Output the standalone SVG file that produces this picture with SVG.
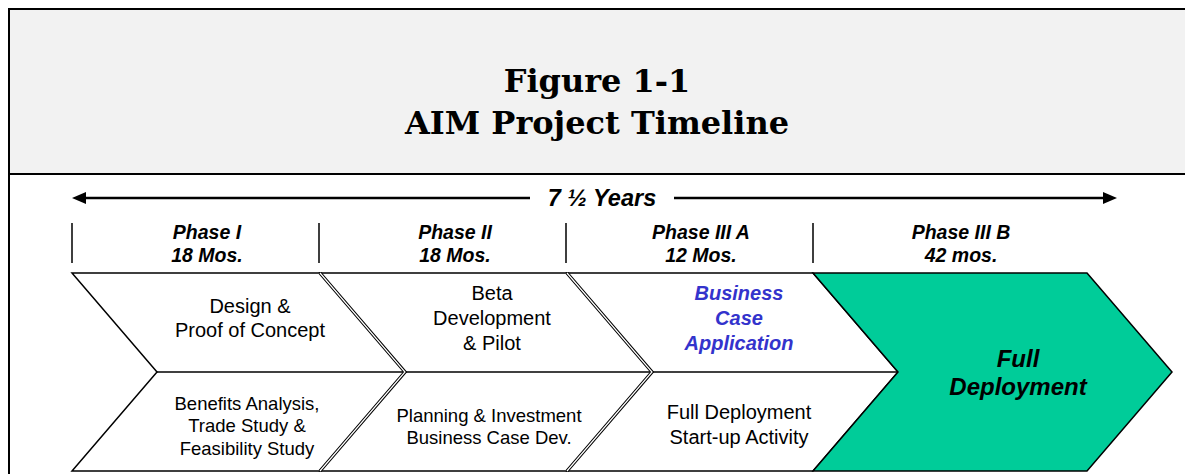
<svg xmlns="http://www.w3.org/2000/svg" width="1185" height="474" viewBox="0 0 1185 474">
  <style>
    .frame { fill: none; stroke: #000; stroke-width: 2; }
    .title { font-family: "DejaVu Serif", "Liberation Serif", serif; font-weight: bold; font-size: 32px; fill: #000; text-anchor: middle; }
    .span { font-family: "Liberation Sans", Arial, sans-serif; font-weight: bold; font-style: italic; font-size: 23.5px; fill: #000; text-anchor: middle; }
    .phase { font-family: "Liberation Sans", Arial, sans-serif; font-weight: bold; font-style: italic; font-size: 19.5px; fill: #000; text-anchor: middle; }
    .tick { stroke: #000; stroke-width: 1.5; }
    .chev { fill: #fff; stroke: #000; stroke-width: 1.5; stroke-linejoin: miter; }
    .chev-final { fill: #00cc99; stroke: #000; stroke-width: 1.5; }
    .dbl-outer { fill: none; stroke: #000; stroke-width: 3.4; }
    .dbl-inner { fill: none; stroke: #fff; stroke-width: 1.2; }
    .mid { stroke: #000; stroke-width: 1.5; }
    .lbl { font-family: "Liberation Sans", Arial, sans-serif; font-size: 20px; fill: #000; text-anchor: middle; }
    .lbl-sm { font-family: "Liberation Sans", Arial, sans-serif; font-size: 18.5px; fill: #000; text-anchor: middle; }
    .lbl-blue { font-family: "Liberation Sans", Arial, sans-serif; font-weight: bold; font-style: italic; font-size: 20px; fill: #3333cc; text-anchor: middle; }
    .lbl-big { font-family: "Liberation Sans", Arial, sans-serif; font-weight: bold; font-style: italic; font-size: 24px; fill: #000; text-anchor: middle; }
  </style>

  <!-- header panel and frame -->
  <g id="frame">
    <rect x="9" y="9" width="1180" height="165" fill="#f2f2f2"/>
    <path class="frame" d="M9,480 V9 H1190 M9,174 H1190"/>
  </g>

  <g id="title">
    <text class="title" x="597" y="92">Figure 1-1</text>
    <text class="title" x="597" y="134">AIM Project Timeline</text>
  </g>

  <!-- overall duration arrow -->
  <g id="duration">
    <path d="M85,198 H530 M674,198 H1104" stroke="#000" stroke-width="2.5"/>
    <polygon points="72,198 86,192 86,204" fill="#000"/>
    <polygon points="1117,198 1103,192 1103,204" fill="#000"/>
    <text class="span" x="602" y="206">7 ½ Years</text>
  </g>

  <!-- phase headings -->
  <g id="phases">
    <path class="tick" d="M72,223 V263 M319,223 V263 M566,223 V263 M813,223 V263"/>
    <text class="phase" x="207" y="239">Phase I</text>
    <text class="phase" x="207" y="262">18 Mos.</text>
    <text class="phase" x="455" y="239">Phase II</text>
    <text class="phase" x="455" y="262">18 Mos.</text>
    <text class="phase" x="701" y="239">Phase III A</text>
    <text class="phase" x="701" y="262">12 Mos.</text>
    <text class="phase" x="961" y="239">Phase III B</text>
    <text class="phase" x="961" y="262">42 mos.</text>
  </g>

  <g id="phase1">
    <polygon class="chev" points="72,273 320,273 405,372 320,471 72,471 157,372"/>
    <text class="lbl" x="250" y="313">Design &amp;</text>
    <text class="lbl" x="250" y="337">Proof of Concept</text>
    <text class="lbl-sm" x="247" y="410">Benefits Analysis,</text>
    <text class="lbl-sm" x="247" y="432">Trade Study &amp;</text>
    <text class="lbl-sm" x="247" y="455">Feasibility Study</text>
  </g>

  <g id="phase2">
    <polygon class="chev" points="320,273 567,273 652,372 567,471 320,471 405,372"/>
    <text class="lbl" x="492" y="300">Beta</text>
    <text class="lbl" x="492" y="325">Development</text>
    <text class="lbl" x="492" y="350">&amp; Pilot</text>
    <text class="lbl-sm" x="489" y="422">Planning &amp; Investment</text>
    <text class="lbl-sm" x="489" y="444">Business Case Dev.</text>
  </g>

  <g id="phase3a">
    <polygon class="chev" points="567,273 813,273 898,372 813,471 567,471 652,372"/>
    <text class="lbl-blue" x="739" y="300">Business</text>
    <text class="lbl-blue" x="739" y="325">Case</text>
    <text class="lbl-blue" x="739" y="350">Application</text>
    <text class="lbl" x="739" y="419">Full Deployment</text>
    <text class="lbl" x="739" y="444">Start-up Activity</text>
  </g>

  <g id="phase3b">
    <polygon class="chev-final" points="813,273 1087,273 1172,372 1087,471 813,471 898,372"/>
    <text class="lbl-big" x="1018" y="367">Full</text>
    <text class="lbl-big" x="1018" y="395">Deployment</text>
  </g>

  <!-- split lines and doubled phase boundaries -->
  <g id="connectors">
    <path class="mid" d="M157,372 H898"/>
    <path class="dbl-outer" d="M320,273 L405,372 L320,471 M567,273 L652,372 L567,471"/>
    <path class="dbl-inner" d="M320,273 L405,372 L320,471 M567,273 L652,372 L567,471"/>
  </g>
</svg>
